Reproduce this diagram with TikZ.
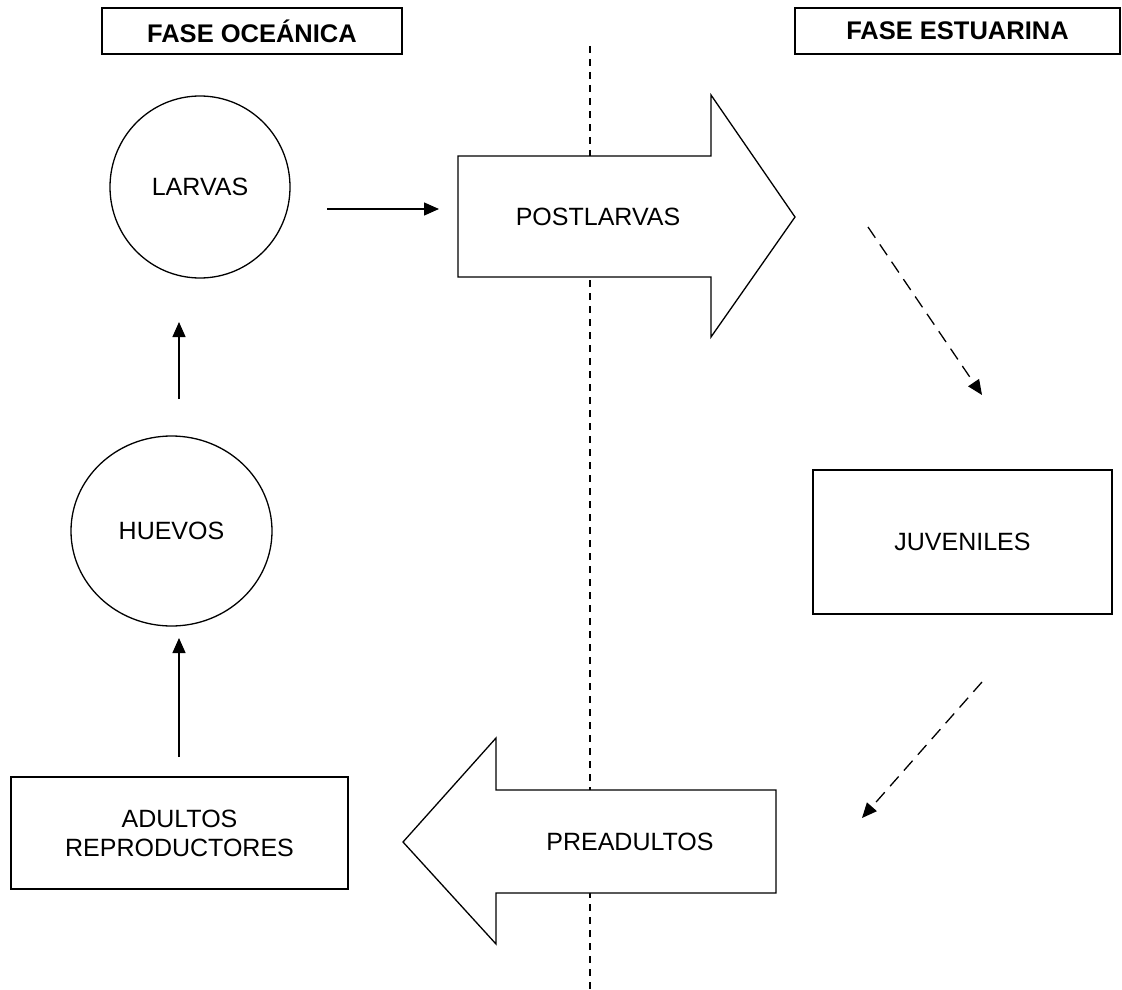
\documentclass[tikz,border=0pt]{standalone}
\usepackage{fontspec}
\setmainfont{Liberation Sans}
\usetikzlibrary{arrows.meta,shapes.geometric}
\begin{document}
\begin{tikzpicture}[x=1pt,y=-1pt,
  line width=1.3pt,
  lbl/.style={font=\fontsize{25}{29}\selectfont, align=center, inner sep=0},
  hdr/.style={draw, line width=1.3pt, font=\fontsize{25.5}{30}\selectfont\bfseries, minimum height=46pt, inner sep=0},
  boxnode/.style={draw, line width=1.3pt, font=\fontsize{25}{29}\selectfont, align=center, inner sep=0},
  oval/.style={draw, ellipse, line width=1.3pt, font=\fontsize{25}{29}\selectfont, inner sep=0},
  bigarrow/.style={draw, fill=white, line width=1.3pt, line join=miter},
  conn/.style={line width=1.3pt, -{Triangle[length=15pt,width=13pt]}},
  dconn/.style={line width=1.3pt, dash pattern=on 13pt off 8pt, -{Triangle[length=15pt,width=13pt]}},
  divline/.style={line width=1.3pt, dash pattern=on 7pt off 6pt}
]
\useasboundingbox (0,0) rectangle (1122,990);

% headers
\node[hdr, minimum width=300pt] (hoce) at (252,31) {FASE OCEÁNICA};
\node[hdr, minimum width=325pt] (hest) at (957.5,31) {FASE ESTUARINA};

% dividing line
\coordinate (dtop) at (590,46);
\coordinate (dbot) at (590,990);
\draw[divline] (dtop) -- (dbot);

% big arrows
\draw[bigarrow] (458,156) -- (711,156) -- (711,95) -- (795,217) -- (711,337) -- (711,277) -- (458,277) -- cycle;
\node[lbl] (post) at (598,217) {POSTLARVAS};

\draw[bigarrow] (776,790) -- (496,790) -- (496,738) -- (403,842) -- (496,944) -- (496,893) -- (776,893) -- cycle;
\node[lbl] (pre) at (630,842) {PREADULTOS};

% ovals
\node[oval, minimum width=180pt, minimum height=182pt] (larv) at (200,187) {LARVAS};
\node[oval, minimum width=201pt, minimum height=190pt] (huev) at (171.5,531) {HUEVOS};

% boxes
\node[boxnode, minimum width=337pt, minimum height=112pt] (adul) at (179.5,833) {ADULTOS\\REPRODUCTORES};
\node[boxnode, minimum width=299pt, minimum height=144pt] (juv) at (962.5,542) {JUVENILES};

% connectors
\coordinate (a1s) at (327,209);
\coordinate (a1e) at (439,209);
\draw[conn] (a1s) -- (a1e);

\coordinate (a2s) at (179,399);
\coordinate (a2e) at (179,322);
\draw[conn] (a2s) -- (a2e);

\coordinate (a3s) at (179,757);
\coordinate (a3e) at (179,638);
\draw[conn] (a3s) -- (a3e);

\coordinate (d1s) at (868,227);
\coordinate (d1e) at (982,395);
\draw[dconn] (d1s) -- (d1e);

\coordinate (d2s) at (982,682);
\coordinate (d2e) at (862,818);
\draw[dconn] (d2s) -- (d2e);
\end{tikzpicture}
\end{document}
